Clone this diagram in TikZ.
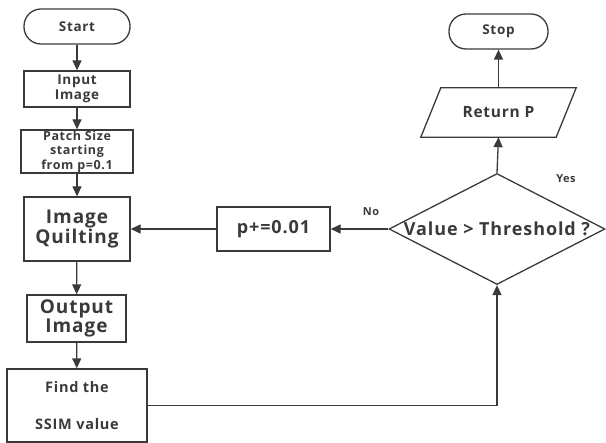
\documentclass[tikz,border=0pt]{standalone}
\usepackage{fontspec}
\setmainfont{Open Sans}[BoldFont={* Bold}, LetterSpace=5]
\usetikzlibrary{shapes.geometric,arrows.meta}
\definecolor{ink}{HTML}{3A3A3A}
\begin{document}
\begin{tikzpicture}[x=1pt,y=1pt,
  every node/.style={inner sep=0pt, align=center, text=ink, font=\bfseries},
  box/.style={draw=ink, line width=1.3pt, rectangle},
  term/.style={draw=ink, line width=1.3pt, rectangle, rounded corners=17pt},
  conn/.style={draw=ink, line width=1.3pt, -{Triangle[length=10pt,width=9pt]}},
  plain/.style={draw=ink, line width=1.3pt}]
\useasboundingbox (0,0) rectangle (606,443);
\node[term, minimum width=106pt, minimum height=35pt, font=\bfseries\fontsize{13.5}{15}\selectfont] (start) at (77,416.5) {Start};
\node[box, minimum width=106pt, minimum height=36pt, font=\bfseries\fontsize{13.5}{15}\selectfont] (input) at (77,354) {Input\\Image};
\node[box, minimum width=112pt, minimum height=43pt, font=\bfseries\fontsize{12.5}{14.5}\selectfont] (patch) at (77,291.5) {Patch Size\\starting\\from p=0.1};
\node[box, minimum width=106pt, minimum height=64pt, font=\bfseries\fontsize{19}{19.5}\selectfont] (quilt) at (77,214) {Image\\Quilting};
\node[box, minimum width=99pt, minimum height=47pt, font=\bfseries\fontsize{19}{19.5}\selectfont] (output) at (76.5,124.5) {Output\\Image};
\node[box, minimum width=140pt, minimum height=73pt, font=\bfseries\fontsize{14.5}{37}\selectfont] (ssim) at (77,37.5) {Find the\\SSIM value};
\node[box, minimum width=113pt, minimum height=44pt, font=\bfseries\fontsize{18}{19}\selectfont] (pinc) at (273.5,214) {p+=0.01};
\node[draw=ink, line width=1.3pt, diamond, aspect=2, minimum width=216pt, minimum height=111pt, font=\bfseries\fontsize{18}{19}\selectfont] (dec) at (497,214) {Value > Threshold ?};
\node[minimum width=135pt, minimum height=49pt, font=\bfseries\fontsize{15.5}{17}\selectfont] (ret) at (498.5,330.5) {Return P};
\draw[plain] ([xshift=-10pt]ret.south west) -- ([xshift=10pt]ret.north west) -- ([xshift=10pt]ret.north east) -- ([xshift=-10pt]ret.south east) -- cycle;
\node[term, minimum width=99pt, minimum height=35pt, font=\bfseries\fontsize{13.5}{15}\selectfont] (stop) at (498.5,411.5) {Stop};
\node[font=\bfseries\fontsize{11}{13}\selectfont] (no) at (371,231) {No};
\node[font=\bfseries\fontsize{11}{13}\selectfont] (yes) at (566,264) {Yes};
\draw[conn] (start) -- (input);
\draw[conn] (input) -- (patch);
\draw[conn] (patch) -- (quilt);
\draw[conn] (quilt) -- (output);
\draw[conn] (output) -- (ssim);
\draw[conn] (ssim.east) -- (dec.south |- ssim.east) -- (dec.south);
\draw[conn] (dec.west) -- (pinc.east);
\draw[conn] (pinc.west) -- (quilt.east);
\draw[conn] (dec.north) -- (ret.south);
\draw[conn] (ret.north) -- (stop.south);
\end{tikzpicture}
\end{document}
